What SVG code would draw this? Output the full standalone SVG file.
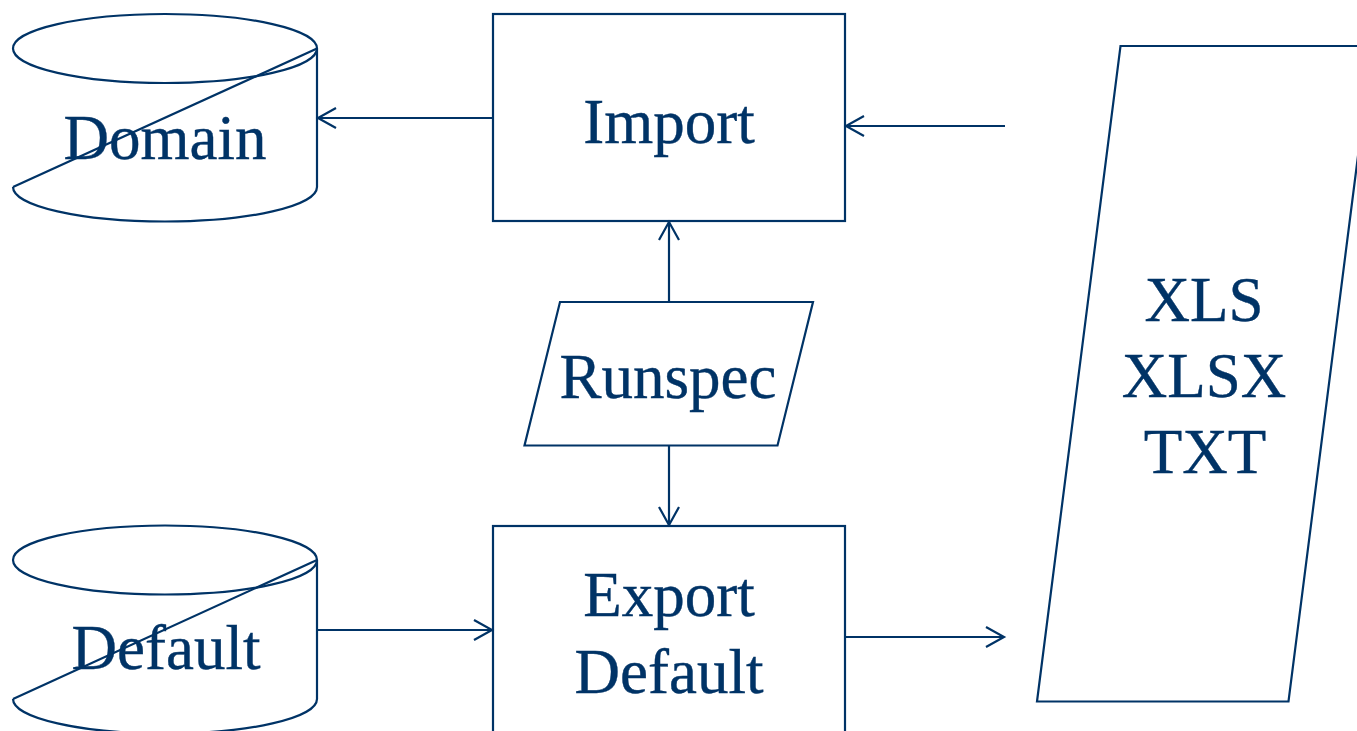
<svg xmlns="http://www.w3.org/2000/svg" width="1357" height="731" viewBox="0 0 1357 731">
  <style>
    .shape { fill: #ffffff; stroke: #003366; stroke-width: 2.2; }
    .edge { fill: none; stroke: #003366; stroke-width: 2.2; }
    .label { font-family: "Liberation Serif", "Times New Roman", serif; font-size: 63px; fill: #003366; stroke: #003366; stroke-width: 0.4; text-anchor: middle; }
  </style>
  <defs>
    <marker id="open-arrow" viewBox="0 0 20 20" refX="18" refY="10" markerWidth="20" markerHeight="20" markerUnits="userSpaceOnUse" orient="auto" overflow="visible">
      <path d="M0,0 L18,10 L0,20" fill="none" stroke="#003366" stroke-width="2.2"/>
    </marker>
  </defs>

  <rect width="1357" height="731" fill="#ffffff"/>

  <!-- Domain store -->
  <g id="domain">
    <ellipse class="shape" cx="165" cy="48.5" rx="152" ry="34.5"/>
    <path class="edge" d="M317 48.5 V187"/>
    <path class="edge" d="M13 187 A152 34.5 0 0 0 317 187"/>
    <path class="edge" d="M13 187 L317 48.5"/>
    <text class="label" x="165" y="159">Domain</text>
  </g>

  <!-- Default store -->
  <g id="default">
    <ellipse class="shape" cx="165" cy="560" rx="152" ry="34.5"/>
    <path class="edge" d="M317 560 V699"/>
    <path class="edge" d="M13 699 A152 34.5 0 0 0 317 699"/>
    <path class="edge" d="M13 699 L317 560"/>
    <text class="label" x="166" y="669">Default</text>
  </g>

  <!-- Import process -->
  <g id="import">
    <rect class="shape" x="493" y="14" width="352" height="207"/>
    <text class="label" x="669" y="143">Import</text>
  </g>

  <!-- Runspec input -->
  <g id="runspec">
    <polygon class="shape" points="560,302 813,302 777.5,445.5 524.5,445.5"/>
    <text class="label" x="668" y="398">Runspec</text>
  </g>

  <!-- Export Default process -->
  <g id="export-default">
    <rect class="shape" x="493" y="526" width="352" height="220"/>
    <text class="label" x="669" y="616">Export</text>
    <text class="label" x="669" y="693">Default</text>
  </g>

  <!-- Spreadsheet / text files -->
  <g id="files">
    <polygon class="shape" points="1120.5,46 1372,46 1288.5,701.5 1037,701.5"/>
    <text class="label" x="1204" y="321">XLS</text>
    <text class="label" x="1204" y="397">XLSX</text>
    <text class="label" x="1205" y="473">TXT</text>
  </g>

  <!-- Connectors -->
  <g id="connectors">
    <path class="edge" d="M493 118 H318" marker-end="url(#open-arrow)"/>
    <path class="edge" d="M1005 126 H846" marker-end="url(#open-arrow)"/>
    <path class="edge" d="M669 302 V222" marker-end="url(#open-arrow)"/>
    <path class="edge" d="M669 446 V525" marker-end="url(#open-arrow)"/>
    <path class="edge" d="M317 630 H492" marker-end="url(#open-arrow)"/>
    <path class="edge" d="M845 637 H1004" marker-end="url(#open-arrow)"/>
  </g>
</svg>
